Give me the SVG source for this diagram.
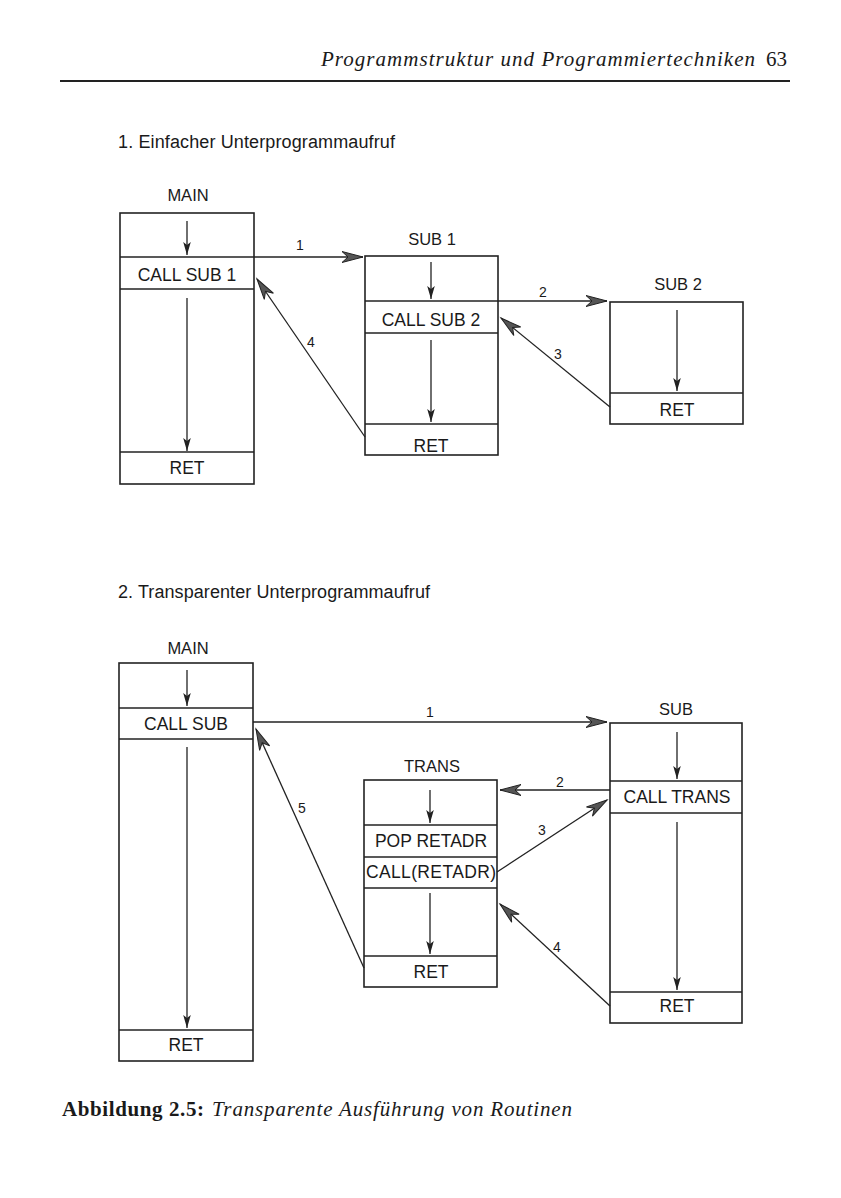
<svg xmlns="http://www.w3.org/2000/svg" width="841" height="1198" viewBox="0 0 841 1198">
<defs>
<style>
.box{fill:none;stroke:#222;stroke-width:1.6}
.sep{stroke:#222;stroke-width:1.6}
.flow{stroke:#222;stroke-width:1.3;fill:none;marker-end:url(#small)}
.con{stroke:#222;stroke-width:1.3;fill:none;marker-end:url(#big)}
.t{font-family:"Liberation Sans",Arial,sans-serif;font-size:17.5px;fill:#1a1a1a;text-anchor:middle}
.h{font-family:"Liberation Sans",Arial,sans-serif;font-size:16.5px;fill:#1a1a1a;text-anchor:middle}
.n{font-family:"Liberation Sans",Arial,sans-serif;font-size:14px;fill:#1a1a1a;text-anchor:middle}
.sub{font-family:"Liberation Sans",Arial,sans-serif;font-size:18px;fill:#1a1a1a}
</style>
<marker id="big" markerUnits="userSpaceOnUse" markerWidth="26" markerHeight="14" refX="22" refY="7" orient="auto" viewBox="0 0 26 14">
<path d="M22,7 L1,1.5 L7,7 L1,12.5 Z" fill="#555" stroke="#222" stroke-width="1"/>
</marker>
<marker id="small" markerUnits="userSpaceOnUse" markerWidth="16" markerHeight="10" refX="14" refY="5" orient="auto" viewBox="0 0 16 10">
<path d="M14,5 L1,1.2 L4,5 L1,8.8 Z" fill="#222"/>
</marker>
</defs>
<rect width="841" height="1198" fill="#fff"/>

<g id="header">
<text x="755" y="66" font-family="'Liberation Serif','Times New Roman',serif" font-style="italic" font-size="21" text-anchor="end" textLength="434" fill="#1a1a1a">Programmstruktur und Programmiertechniken</text>
<text x="787" y="66" font-family="'Liberation Serif','Times New Roman',serif" font-size="21" text-anchor="end" fill="#1a1a1a">63</text>
<line x1="60" y1="81" x2="790" y2="81" stroke="#222" stroke-width="2"/>
</g>

<text class="sub" x="118" y="148" textLength="277">1. Einfacher Unterprogrammaufruf</text>
<text class="sub" x="118" y="598" textLength="312">2. Transparenter Unterprogrammaufruf</text>

<!-- Diagram 1 -->
<g id="main1">
<text class="h" x="188" y="201">MAIN</text>
<rect class="box" x="120" y="213" width="134" height="271"/>
<line class="sep" x1="120" y1="257" x2="254" y2="257"/>
<line class="sep" x1="120" y1="289" x2="254" y2="289"/>
<line class="sep" x1="120" y1="452" x2="254" y2="452"/>
<text class="t" x="187" y="281">CALL SUB 1</text>
<text class="t" x="187" y="474">RET</text>
<path class="flow" d="M187,221 V255"/>
<path class="flow" d="M187,298 V451"/>
</g>

<g id="sub1">
<text class="h" x="432" y="245">SUB 1</text>
<rect class="box" x="365" y="256" width="133" height="199"/>
<line class="sep" x1="365" y1="301" x2="498" y2="301"/>
<line class="sep" x1="365" y1="333" x2="498" y2="333"/>
<line class="sep" x1="365" y1="424" x2="498" y2="424"/>
<text class="t" x="431" y="326">CALL SUB 2</text>
<text class="t" x="431" y="452">RET</text>
<path class="flow" d="M431,262 V299"/>
<path class="flow" d="M431,340 V422"/>
</g>

<g id="sub2">
<text class="h" x="678" y="290">SUB 2</text>
<rect class="box" x="610" y="302" width="133" height="122"/>
<line class="sep" x1="610" y1="393" x2="743" y2="393"/>
<text class="t" x="677" y="416">RET</text>
<path class="flow" d="M677,310 V391"/>
</g>

<!-- Diagram 2 -->
<g id="main2">
<text class="h" x="188" y="654">MAIN</text>
<rect class="box" x="119" y="663" width="134" height="398"/>
<line class="sep" x1="119" y1="708" x2="253" y2="708"/>
<line class="sep" x1="119" y1="739" x2="253" y2="739"/>
<line class="sep" x1="119" y1="1030" x2="253" y2="1030"/>
<text class="t" x="186" y="730">CALL SUB</text>
<text class="t" x="186" y="1051">RET</text>
<path class="flow" d="M187,670 V706"/>
<path class="flow" d="M187,747 V1028"/>
</g>

<g id="trans">
<text class="h" x="432" y="772">TRANS</text>
<rect class="box" x="364" y="780" width="133" height="207"/>
<line class="sep" x1="364" y1="825" x2="497" y2="825"/>
<line class="sep" x1="364" y1="857" x2="497" y2="857"/>
<line class="sep" x1="364" y1="888" x2="497" y2="888"/>
<line class="sep" x1="364" y1="956" x2="497" y2="956"/>
<text class="t" x="431" y="847">POP RETADR</text>
<text class="t" x="431" y="878" textLength="130">CALL(RETADR)</text>
<text class="t" x="431" y="978">RET</text>
<path class="flow" d="M430,790 V823"/>
<path class="flow" d="M430,893 V954"/>
</g>

<g id="sub">
<text class="h" x="676" y="715">SUB</text>
<rect class="box" x="610" y="723" width="132" height="300"/>
<line class="sep" x1="610" y1="781" x2="742" y2="781"/>
<line class="sep" x1="610" y1="813" x2="742" y2="813"/>
<line class="sep" x1="610" y1="992" x2="742" y2="992"/>
<text class="t" x="677" y="803">CALL TRANS</text>
<text class="t" x="677" y="1012">RET</text>
<path class="flow" d="M677,732 V779"/>
<path class="flow" d="M677,822 V990"/>
</g>

<g id="connectors">
<path class="con" d="M254,257 L363,257"/>
<path class="con" d="M498,301 L607,301"/>
<path class="con" d="M610,407 L501,318"/>
<path class="con" d="M365,437 L257,279"/>
<path class="con" d="M253,722 L607,722"/>
<path class="con" d="M610,790 L500,790"/>
<path class="con" d="M497,872 L607,800"/>
<path class="con" d="M610,1006 L500,904"/>
<path class="con" d="M364,968 L256,729"/>
<text class="n" x="300" y="250">1</text>
<text class="n" x="543" y="297">2</text>
<text class="n" x="558" y="359">3</text>
<text class="n" x="311" y="347">4</text>
<text class="n" x="430" y="717">1</text>
<text class="n" x="560" y="787">2</text>
<text class="n" x="542" y="835">3</text>
<text class="n" x="557" y="952">4</text>
<text class="n" x="302" y="813">5</text>
</g>

<g id="caption">
<text x="62" y="1116" font-family="'Liberation Serif','Times New Roman',serif" font-weight="bold" font-size="21" textLength="142" fill="#1a1a1a">Abbildung 2.5:</text>
<text x="212" y="1116" font-family="'Liberation Serif','Times New Roman',serif" font-style="italic" font-size="21" textLength="360" fill="#1a1a1a">Transparente Ausführung von Routinen</text>
</g>
</svg>
